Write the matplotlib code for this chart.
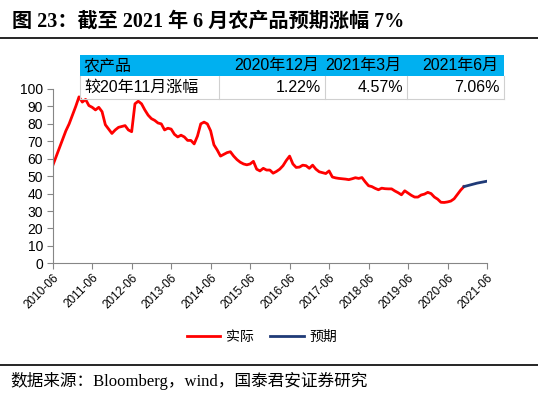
import matplotlib
matplotlib.use("Agg")
import matplotlib.pyplot as plt
from matplotlib.patches import Rectangle
from matplotlib.lines import Line2D
import numpy as np

plt.rcParams['font.family'] = ['Liberation Sans', 'Noto Sans CJK SC', 'DejaVu Sans']

# monthly index, 2010-06 onward
actual = [56, 61, 66, 71, 76, 80, 85, 90, 95.5, 92.5,
          94, 90.5, 89.5, 88, 89.5, 87, 79.5, 77, 74.5, 76.5,
          78, 78.5, 79, 76.5, 75.5, 91.5, 93, 91.5, 88, 85,
          83, 82, 80.5, 80, 76.5, 77.5, 77, 74, 72.5, 73.5,
          72.5, 70.5, 70.5, 68.5, 73, 80, 81, 80, 76, 68,
          65, 61.5, 62.5, 63.5, 64, 61.5, 59.5, 58, 57, 56.5,
          57, 58.5, 54, 53, 54.5, 53.5, 53.5, 51.7, 52.7, 54,
          56, 59, 61.5, 57, 55, 55.2, 56.3, 56, 54.5, 56.3,
          54, 52.5, 52, 51.5, 53, 49.5, 49, 48.7, 48.5, 48.3,
          48, 48.5, 49.1, 48.7, 49.2, 46.7, 44.5, 44, 43, 42.2,
          43.1, 42.8, 42.7, 42.7, 41.5, 40.5, 39.3, 41.6, 40.3, 39,
          38, 38, 39.2, 39.7, 40.7, 40, 38, 36.8, 35, 34.9,
          35.2, 35.7, 37, 39.5, 42, 44]
# forecast: 2020-11 base, 2020-12, 2021-03, 2021-06
fc_month = [125, 126, 129, 132]
fc_value = [44.0, 44.5, 46.0, 47.1]

tick_labels = ['2010-06', '2011-06', '2012-06', '2013-06', '2014-06', '2015-06',
               '2016-06', '2017-06', '2018-06', '2019-06', '2020-06', '2021-06']

tbl_head = ['农产品', '2020年12月', '2021年3月', '2021年6月']
tbl_row = ['较20年11月涨幅', '1.22%', '4.57%', '7.06%']

W, H = 538, 396
fig = plt.figure(figsize=(W / 100, H / 100), dpi=100)


def fx(x):
    return x / W


def fy(y):
    return 1 - y / H


# title + rules
fig.text(fx(12), fy(22), '图 23：截至 2021 年 6 月农产品预期涨幅 7%', fontsize=14.5,
         fontweight='bold', family=['Liberation Serif', 'Noto Sans CJK SC'], va='center', ha='left')
fig.add_artist(Line2D([0, 1], [fy(38), fy(38)], color='black', lw=1.2))
fig.add_artist(Line2D([0, 1], [fy(365), fy(365)], color='black', lw=1.2))
fig.text(fx(10), fy(381), '数据来源：Bloomberg，wind，国泰君安证券研究', fontsize=12,
         family=['Liberation Serif', 'Noto Sans CJK SC'], va='center', ha='left')

# main axes
ax = fig.add_axes([fx(52.7), fy(263.3), fx(487) - fx(52.7), fy(89) - fy(263.3)])
ax.plot(np.arange(len(actual)), actual, color='#FF0000', lw=2, label='实际')
ax.plot(fc_month, fc_value, color='#1F3A77', lw=2, label='预期')
ax.set_xlim(0, 132)
ax.set_ylim(0, 100)
ax.set_yticks(range(0, 101, 10))
ax.set_xticks(range(0, 133, 12))
ax.set_xticklabels(tick_labels, rotation=45, ha='right', rotation_mode='anchor', fontsize=8.5)
ax.tick_params(axis='y', labelsize=10, length=4, color='#868686', pad=3)
ax.tick_params(axis='x', length=4, color='#868686', pad=2)
for s in ['top', 'right']:
    ax.spines[s].set_visible(False)
for s in ['left', 'bottom']:
    ax.spines[s].set_color('#868686')
ax.legend(loc='center', bbox_to_anchor=(fx(262), fy(337)), bbox_transform=fig.transFigure,
          ncol=2, frameon=False, fontsize=10, handlelength=2.4, columnspacing=1.2,
          handletextpad=0.4)

# table
col_x = [80, 219, 325, 407, 504]
y0, y1, y2 = 55, 76, 99
fig.add_artist(Rectangle((fx(col_x[0]), fy(y1)), fx(col_x[-1]) - fx(col_x[0]), fy(y0) - fy(y1),
                         transform=fig.transFigure, color='#00B0F0', lw=0))
grey = '#D0D0D0'
fig.add_artist(Line2D([fx(col_x[0]), fx(col_x[-1])], [fy(y2), fy(y2)], color=grey, lw=0.8))
for cx in col_x:
    fig.add_artist(Line2D([fx(cx), fx(cx)], [fy(y1), fy(y2)], color=grey, lw=0.8))
for i in range(4):
    if i == 0:
        fig.text(fx(col_x[0] + 4), fy((y0 + y1) / 2), tbl_head[i], fontsize=11.5, ha='left', va='center')
        fig.text(fx(col_x[0] + 4), fy((y1 + y2) / 2), tbl_row[i], fontsize=11.5, ha='left', va='center')
    else:
        fig.text(fx(col_x[i + 1] - 6), fy((y0 + y1) / 2), tbl_head[i], fontsize=11.5, ha='right', va='center')
        fig.text(fx(col_x[i + 1] - 4), fy((y1 + y2) / 2), tbl_row[i], fontsize=11.5, ha='right', va='center')

fig.savefig('out.png', dpi=100)
